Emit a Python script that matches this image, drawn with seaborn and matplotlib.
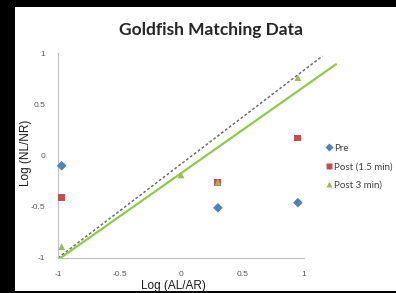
import numpy as np
import pandas as pd
import matplotlib
matplotlib.use('Agg')
import matplotlib.pyplot as plt
import seaborn as sns
from matplotlib.patches import Rectangle

# data
pre_x = [-0.97, 0.30, 0.95]
pre_y = [-0.10, -0.51, -0.46]
post15_x = [-0.97, 0.30, 0.95]
post15_y = [-0.41, -0.26, 0.17]
post3_x = [-0.97, 0.00, 0.30, 0.95]
post3_y = [-0.89, -0.19, -0.26, 0.76]
series_names = ['Pre', 'Post (1.5 min)', 'Post 3 min)']

# reference (dashed) and trend (green) lines
ref_x = [-1.0, 1.15]
ref_y = [-1.0, 0.97]
trend_x = [-0.98, 1.26]
trend_y = [-1.0, 0.89]

ticks = [-1, -0.5, 0, 0.5, 1]
tick_labels = ['-1', '-0.5', '0', '0.5', '1']

df = pd.DataFrame({
    'x': pre_x + post15_x + post3_x,
    'y': pre_y + post15_y + post3_y,
    'series': [series_names[0]] * len(pre_x) + [series_names[1]] * len(post15_x)
              + [series_names[2]] * len(post3_x),
})

sns.set_style('white')
plt.rcParams['font.family'] = ['Liberation Sans', 'DejaVu Sans']

fig = plt.figure(figsize=(3.96, 2.93), dpi=100)
fig.patch.set_facecolor('black')
fig.patches.append(Rectangle((15 / 396, 2 / 293), 1 - 15 / 396, (291 - 7) / 293,
                             transform=fig.transFigure, facecolor='white',
                             edgecolor='none', zorder=-10))

ax = fig.add_axes([58 / 396, 35 / 293, 246 / 396, 205 / 293])
ax.set_facecolor('none')
ax.set_zorder(1)

palette = {'Pre': '#4F81BD', 'Post (1.5 min)': '#C0504D', 'Post 3 min)': '#9BBB59'}
markers = {'Pre': 'D', 'Post (1.5 min)': 's', 'Post 3 min)': '^'}

ax.plot(ref_x, ref_y, color='#6E6E6E', ls=(0, (1.8, 1.4)), lw=1.1, clip_on=False, zorder=2)
ax.plot(trend_x, trend_y, color='#8FCB4A', lw=1.6, clip_on=False, zorder=2)

sns.scatterplot(data=df, x='x', y='y', hue='series', style='series',
                palette=palette, markers=markers, hue_order=series_names,
                s=24, edgecolor='none', ax=ax, zorder=3, clip_on=False)

ax.set_xlim(-1, 1)
ax.set_ylim(-1, 1)
ax.set_xticks(ticks)
ax.set_xticklabels(tick_labels)
ax.set_yticks(ticks)
ax.set_yticklabels(tick_labels)
ax.tick_params(axis='both', labelsize=6, colors='#9A9A9A', length=3, width=0.6,
               direction='out', pad=6)
ax.tick_params(axis='both', labelcolor='#555555')
for side in ['top', 'right']:
    ax.spines[side].set_visible(False)
for side in ['left', 'bottom']:
    ax.spines[side].set_color('#BFBFBF')
    ax.spines[side].set_linewidth(0.8)
ax.set_xlabel('')
ax.set_ylabel('')

leg = ax.legend(loc='upper left', bbox_to_anchor=(321 / 396, 1 - 140 / 293),
                bbox_transform=fig.transFigure, frameon=False,
                prop={'family': 'Lato', 'size': 7}, handletextpad=0.1,
                handlelength=0.8, labelspacing=0.95, markerscale=0.8,
                borderaxespad=0)
for t in leg.get_texts():
    t.set_color('#404040')

fig.text(211 / 396, 1 - 30 / 293, 'Goldfish Matching Data', ha='center', va='center',
         fontsize=12.5, fontweight='bold', family='Lato', color='#262626')
fig.text(26 / 396, 1 - 153 / 293, 'Log (NL/NR)', rotation=90, ha='center', va='center',
         fontsize=8.5, color='#1A1A1A')
fig.text(173 / 396, 1 - 286 / 293, 'Log (AL/AR)', ha='center', va='center',
         fontsize=8.5, color='#1A1A1A')

fig.savefig('out.png', dpi=100, facecolor=fig.get_facecolor())
